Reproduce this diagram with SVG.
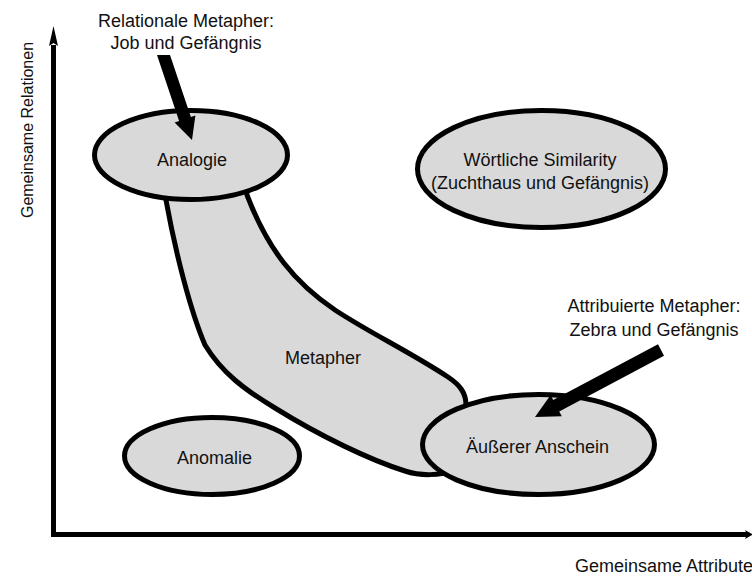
<svg xmlns="http://www.w3.org/2000/svg" width="752" height="577" viewBox="0 0 752 577">
<style>
.shape{fill:#d9d9d9;stroke:#000;stroke-width:5}
.lbl{font-family:"Liberation Sans",Arial,Helvetica,sans-serif;font-size:18px;fill:#111;text-anchor:middle}
.ax{font-family:"Liberation Sans",Arial,Helvetica,sans-serif;fill:#111}
.arrow{fill:#000;stroke:none}
</style>
<rect width="752" height="577" fill="#fff"/>
<g id="axes">
<path d="M53.5,45 L53.5,534.5 L747,534.5" fill="none" stroke="#000" stroke-width="5"/>
<polygon class="arrow" points="53.5,26 58,46 53.5,43 49,46"/>
<polygon class="arrow" points="753,534.5 745,530 747,534.5 745,539"/>
<text class="ax" font-size="16" transform="translate(33,130) rotate(-90)" text-anchor="middle">Gemeinsame Relationen</text>
<text class="ax" font-size="18" x="575" y="572">Gemeinsame Attribute</text>
</g>
<g id="metapher">
<path class="shape" d="M160,170 L166,200 C175,250 190,310 205,345 C222,373 245,390 275,408 C320,436 370,460 405,471 C420,476 440,476 455,470 L480,440 L466,405 C466,393 460,385 448,377 C410,352 370,333 335,310 C295,283 268,250 247,195 L245,170 Z"/>
<text class="lbl" x="323" y="364">Metapher</text>
</g>
<g id="analogie">
<ellipse class="shape" cx="191" cy="155" rx="96.5" ry="44.5"/>
<text class="lbl" x="192" y="166">Analogie</text>
</g>
<g id="woertliche">
<ellipse class="shape" cx="541.5" cy="169" rx="124" ry="58.5"/>
<text class="lbl" x="540" y="166">Wörtliche Similarity</text>
<text class="lbl" x="540" y="189">(Zuchthaus und Gefängnis)</text>
</g>
<g id="anomalie">
<ellipse class="shape" cx="212" cy="456" rx="87.5" ry="38.5"/>
<text class="lbl" x="214.5" y="464">Anomalie</text>
</g>
<g id="aeusserer">
<ellipse class="shape" cx="538.5" cy="444.5" rx="116" ry="50"/>
<text class="lbl" x="537.5" y="453">Äußerer Anschein</text>
</g>
<g id="relational">
<text class="lbl" x="186" y="27">Relationale Metapher:</text>
<text class="lbl" x="186" y="49">Job und Gefängnis</text>
</g>
<g id="attribuiert">
<text class="lbl" x="654" y="312">Attribuierte Metapher:</text>
<text class="lbl" x="654" y="336">Zebra und Gefängnis</text>
</g>
<g id="connectors">
<polygon class="arrow" points="157,55 170,55 190.9,117 195.4,115.5 192,140 174.6,122.5 179.1,121"/>
<polygon class="arrow" points="664,355.7 658,344.3 553.2,400 550.6,395.1 535,417 561.8,416.3 559.2,411.4"/>
</g>
</svg>
